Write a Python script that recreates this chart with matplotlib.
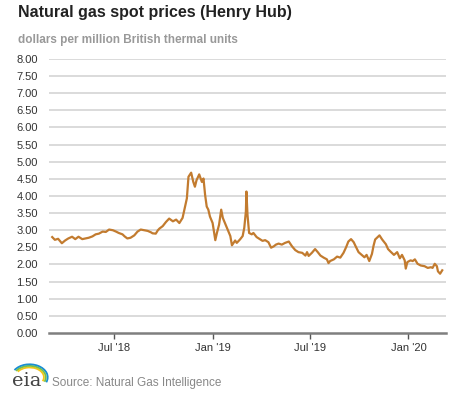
import pandas as pd
import matplotlib.pyplot as plt
from matplotlib.patches import Arc

plt.rcParams['font.family'] = ['Liberation Sans', 'DejaVu Sans']

# -----------------------------
# Henry Hub spot price
# -----------------------------
dates = [
    "2018-03-08", "2018-03-13", "2018-03-19", "2018-03-26", "2018-04-01", "2018-04-07",
    "2018-04-14", "2018-04-20", "2018-04-26", "2018-05-03", "2018-05-09", "2018-05-15",
    "2018-05-22", "2018-05-28", "2018-06-03", "2018-06-10", "2018-06-16", "2018-06-22",
    "2018-06-29", "2018-07-05", "2018-07-10", "2018-07-17", "2018-07-21", "2018-07-26",
    "2018-08-01", "2018-08-08", "2018-08-14", "2018-08-20", "2018-08-27", "2018-09-02",
    "2018-09-08", "2018-09-11", "2018-09-17", "2018-09-21", "2018-09-24", "2018-09-30",
    "2018-10-06", "2018-10-12", "2018-10-19", "2018-10-25", "2018-10-31", "2018-11-06",
    "2018-11-10", "2018-11-14", "2018-11-17", "2018-11-22", "2018-11-26", "2018-11-29",
    "2018-12-02", "2018-12-07", "2018-12-12", "2018-12-15", "2018-12-18", "2018-12-21",
    "2018-12-24", "2018-12-27", "2019-01-01", "2019-01-06", "2019-01-09", "2019-01-13",
    "2019-01-17", "2019-01-20", "2019-01-24", "2019-01-29", "2019-02-03", "2019-02-06",
    "2019-02-12", "2019-02-15", "2019-02-21", "2019-02-26", "2019-03-01", "2019-03-04",
    "2019-03-05", "2019-03-07", "2019-03-10", "2019-03-15", "2019-03-18", "2019-03-24",
    "2019-03-31", "2019-04-04", "2019-04-09", "2019-04-15", "2019-04-20", "2019-04-25",
    "2019-04-29", "2019-05-04", "2019-05-10", "2019-05-16", "2019-05-23", "2019-05-29",
    "2019-06-04", "2019-06-10", "2019-06-17", "2019-06-23", "2019-06-26", "2019-06-29",
    "2019-07-05", "2019-07-11", "2019-07-16", "2019-07-21", "2019-07-27", "2019-08-02",
    "2019-08-05", "2019-08-08", "2019-08-15", "2019-08-21", "2019-08-27", "2019-09-02",
    "2019-09-07", "2019-09-11", "2019-09-16", "2019-09-21", "2019-09-24", "2019-09-30",
    "2019-10-06", "2019-10-11", "2019-10-15", "2019-10-20", "2019-10-25", "2019-10-28",
    "2019-10-31", "2019-11-08", "2019-11-13", "2019-11-20", "2019-11-24", "2019-11-29",
    "2019-12-05", "2019-12-11", "2019-12-16", "2019-12-20", "2019-12-25", "2019-12-27",
    "2019-12-30", "2020-01-05", "2020-01-09", "2020-01-13", "2020-01-18", "2020-01-24",
    "2020-01-31", "2020-02-06", "2020-02-12", "2020-02-15", "2020-02-19", "2020-02-23",
    "2020-02-25", "2020-02-29", "2020-03-04",
]
prices = [
    2.80, 2.72, 2.75, 2.62, 2.70, 2.76,
    2.81, 2.74, 2.81, 2.74, 2.76, 2.78,
    2.82, 2.88, 2.90, 2.96, 2.95, 3.02,
    3.00, 2.96, 2.92, 2.88, 2.82, 2.76,
    2.78, 2.85, 2.96, 3.02, 3.00, 2.98,
    2.94, 2.91, 2.90, 3.00, 3.05, 3.12,
    3.24, 3.34, 3.26, 3.31, 3.21, 3.36,
    3.64, 3.93, 4.56, 4.68, 4.41, 4.27,
    4.46, 4.63, 4.41, 4.51, 4.03, 3.69,
    3.60, 3.40, 3.21, 2.71, 2.92, 3.16,
    3.60, 3.36, 3.21, 3.02, 2.83, 2.56,
    2.70, 2.63, 2.73, 2.83, 3.07, 3.55,
    4.13, 3.45, 2.92, 2.88, 2.92, 2.80,
    2.73, 2.69, 2.71, 2.65, 2.49, 2.53,
    2.58, 2.61, 2.58, 2.63, 2.67, 2.53,
    2.42, 2.36, 2.34, 2.26, 2.36, 2.25,
    2.34, 2.45, 2.36, 2.26, 2.20, 2.15,
    2.04, 2.10, 2.15, 2.23, 2.20, 2.34,
    2.51, 2.67, 2.74, 2.65, 2.55, 2.36,
    2.28, 2.21, 2.28, 2.10, 2.31, 2.55,
    2.73, 2.85, 2.73, 2.59, 2.45, 2.37,
    2.28, 2.36, 2.18, 2.28, 2.12, 1.88,
    2.07, 2.12, 2.10, 2.15, 2.02, 1.97,
    1.95, 1.90, 1.92, 1.90, 2.02, 1.95,
    1.80, 1.73, 1.83,
]

tick_dates = ["2018-07-01", "2019-01-01", "2019-07-01", "2020-01-01"]
tick_labels = ["Jul '18", "Jan '19", "Jul '19", "Jan '20"]
y_ticks = [i * 0.5 for i in range(17)]

df = pd.DataFrame({"date": pd.to_datetime(dates), "price": prices})

fig = plt.figure(figsize=(4.77, 3.93), dpi=100)
ax = fig.add_axes([0.1027, 0.1527, 0.8323, 0.6973])

ax.plot(df["date"], df["price"], color="#c27b2f", lw=1.6, zorder=3)

ax.set_ylim(0, 8)
ax.set_xlim(pd.Timestamp("2018-03-02"), pd.Timestamp("2020-03-11"))
ax.set_yticks(y_ticks)
ax.set_yticklabels([f"{v:.2f}" for v in y_ticks])
ax.set_xticks(pd.to_datetime(tick_dates))
ax.set_xticklabels(tick_labels)

for v in y_ticks[1:]:
    ax.axhline(v, color="#d4d4d4", lw=1.2, zorder=1)

for s in ["top", "right", "left"]:
    ax.spines[s].set_visible(False)
ax.spines["bottom"].set_color("#7f7f7f")
ax.spines["bottom"].set_linewidth(1.8)

ax.tick_params(axis="y", length=0, pad=8, labelsize=8, labelcolor="#333333")
ax.tick_params(axis="x", length=4, width=1, color="#555555", pad=3,
               labelsize=8, labelcolor="#333333")

# titles
fig.text(0.038, 0.968, "Natural gas spot prices (Henry Hub)", fontsize=11.5,
         fontweight="bold", color="#222222", va="center", ha="left")
fig.text(0.038, 0.898, "dollars per million British thermal units", fontsize=8.5,
         fontweight="bold", color="#999999", va="center", ha="left")

# footer: eia logo + source
fig.text(0.026, 0.008, "eia", fontsize=14, color="#444444", family="DejaVu Serif",
         va="bottom", ha="left")
for r, c in [(0.0, "#f5c518"), (0.004, "#7cc242"), (0.008, "#1a8fd0")]:
    fig.add_artist(Arc((0.062, 0.040), 0.06 + r * 2, 0.05 + r * 2, theta1=-20, theta2=150,
                       color=c, lw=1.3, transform=fig.transFigure))
fig.text(0.109, 0.025, "Source: Natural Gas Intelligence", fontsize=8.5,
         color="#888888", va="center", ha="left")

plt.savefig("out.png", dpi=100)
